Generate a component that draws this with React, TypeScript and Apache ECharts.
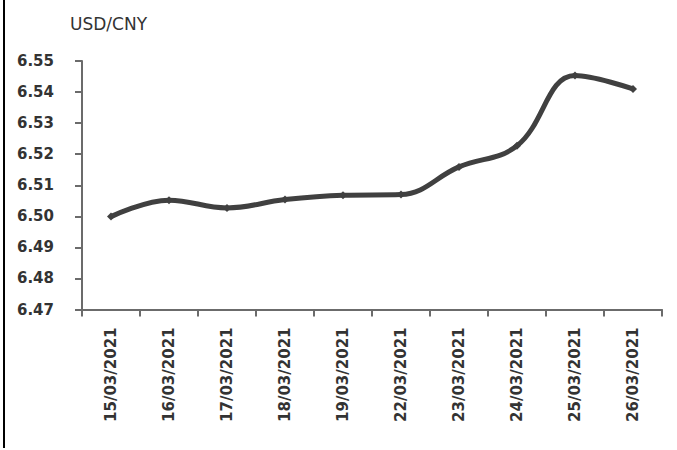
import React, { useEffect, useRef } from "react";
import * as echarts from "echarts";

const categories = [
  "15/03/2021",
  "16/03/2021",
  "17/03/2021",
  "18/03/2021",
  "19/03/2021",
  "22/03/2021",
  "23/03/2021",
  "24/03/2021",
  "25/03/2021",
  "26/03/2021",
];
const usdCny = [6.4999, 6.5052, 6.5027, 6.5054, 6.5068, 6.507, 6.5159, 6.5227, 6.5453, 6.541];
const yMin = 6.47;
const yMax = 6.55;
const yStep = 0.01;
const titleText = "USD/CNY";

export default function App() {
  const ref = useRef<HTMLDivElement>(null);
  useEffect(() => {
    document.body.style.margin = "0";
    const chart = echarts.init(ref.current!, undefined, { renderer: "svg" });
    const font = "'DejaVu Sans', sans-serif";
    chart.setOption({
      animation: false,
      backgroundColor: "#ffffff",
      grid: { left: 82, top: 61, width: 580, height: 248.5, containLabel: false },
      graphic: [
        {
          type: "rect",
          shape: { x: 3, y: 0, width: 2, height: 448 },
          style: { fill: "#000000" },
        },
        {
          type: "text",
          left: 70,
          top: 15,
          style: { text: titleText, fill: "#333333", font: `normal 17px ${font}` },
        },
      ],
      xAxis: {
        type: "category",
        data: categories,
        boundaryGap: true,
        axisLine: { lineStyle: { color: "#6b6b6b", width: 2 } },
        axisTick: { show: true, length: 7, lineStyle: { color: "#6b6b6b", width: 2 } },
        axisLabel: {
          rotate: 90,
          margin: 18,
          color: "#333333",
          fontFamily: font,
          fontWeight: "bold",
          fontSize: 15,
          interval: 0,
        },
        splitLine: { show: false },
      },
      yAxis: {
        type: "value",
        min: yMin,
        max: yMax,
        interval: yStep,
        axisLine: { show: true, lineStyle: { color: "#6b6b6b", width: 2 } },
        axisTick: { show: true, length: 7, lineStyle: { color: "#6b6b6b", width: 2 } },
        axisLabel: {
          margin: 28,
          color: "#333333",
          fontFamily: font,
          fontWeight: "bold",
          fontSize: 15,
          formatter: (v: number) => v.toFixed(2),
        },
        splitLine: { show: false },
      },
      series: [
        {
          type: "line",
          data: usdCny,
          smooth: 0.4,
          symbol: "diamond",
          symbolSize: 8,
          showSymbol: true,
          itemStyle: { color: "#404040" },
          lineStyle: { color: "#404040", width: 5 },
        },
      ],
    });
    return () => chart.dispose();
  }, []);
  return (
    <div
      ref={ref}
      style={{ position: "absolute", left: 0, top: 0, width: 677, height: 450 }}
    />
  );
}
